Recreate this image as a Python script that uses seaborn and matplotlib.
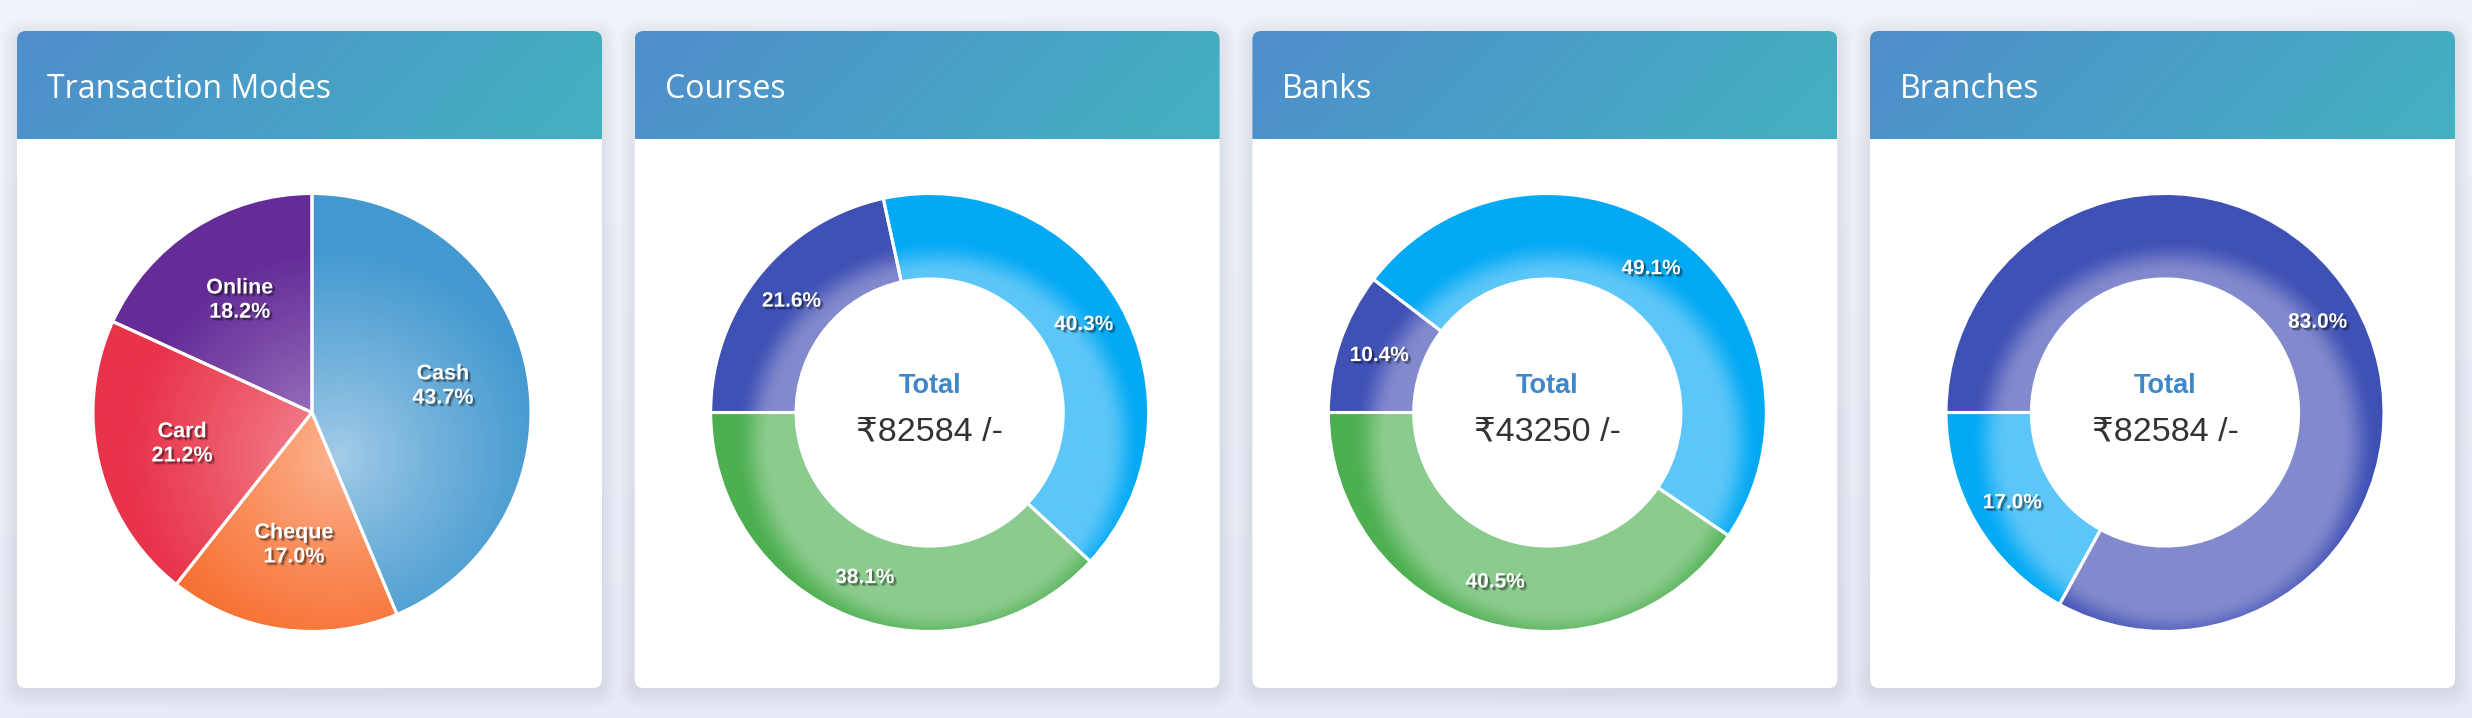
import numpy as np
import matplotlib
matplotlib.use("Agg")
import matplotlib.pyplot as plt
import seaborn as sns
from matplotlib.patches import FancyBboxPatch
import matplotlib.patheffects as pe
from matplotlib.colors import to_rgb

# ---------------- data ----------------
panel_titles = ["Transaction Modes", "Courses", "Banks", "Branches"]

mode_labels = ["Cash", "Cheque", "Card", "Online"]
mode_values = [43.7, 17.0, 21.2, 18.2]

course_values = [21.6, 40.3, 38.1]
bank_values = [10.4, 49.1, 40.5]
branch_values = [83.0, 17.0]

course_total = 82584
bank_total = 43250
branch_total = 82584

# ---------------- style ----------------
mode_dark = ["#4399d0", "#f76e2f", "#e8334a", "#652c98"]
mode_light = ["#a6cde8", "#fcb694", "#f5929c", "#a98ac8"]
indigo = ("#3f51b5", "#8289cd")
lblue = ("#03a9f4", "#5cc6f8")
green = ("#4caf50", "#8bcb8d")

W, H = 2472, 718
sns.set_theme(style="white")
plt.rcParams["font.family"] = ["Liberation Sans", "DejaVu Sans"]

fig = plt.figure(figsize=(W / 100, H / 100), dpi=100)
fig.patch.set_facecolor("#eef2fa")

bg = fig.add_axes([0, 0, 1, 1])
bg.axis("off")
ys = np.linspace(0, 1, 200)[:, None]
xs = np.linspace(0, 1, 400)[None, :]
t = np.clip(0.8 * ys + 0.2 * xs, 0, 1)[..., None]
c_top = np.array(to_rgb("#f1f4fb"))
c_bot = np.array(to_rgb("#e5eaf5"))
bg.imshow(c_top * (1 - t) + c_bot * t, extent=[0, W, H, 0], aspect="auto",
          interpolation="bilinear", zorder=0)

CARD_X0, PITCH, CARD_W = 17, 617.67, 585
CARD_TOP, CARD_BOT, HEAD_BOT = 31, 688, 139
hc0 = np.array(to_rgb("#4f8ecc"))
hc1 = np.array(to_rgb("#43b1c0"))

for i, title in enumerate(panel_titles):
    x0 = CARD_X0 + i * PITCH
    for k in range(1, 18):
        bg.add_patch(FancyBboxPatch((x0 - k, CARD_TOP - k + 4), CARD_W + 2 * k,
                                    (CARD_BOT - CARD_TOP) + 2 * k,
                                    boxstyle=f"round,pad=0,rounding_size={9 + k}",
                                    fc="#7f90c0", ec="none", alpha=0.0045, zorder=1))
    card = FancyBboxPatch((x0, CARD_TOP), CARD_W, CARD_BOT - CARD_TOP,
                          boxstyle="round,pad=0,rounding_size=9",
                          fc="white", ec="none", zorder=2)
    bg.add_patch(card)
    hx = np.linspace(0, 1, 300)[None, :]
    hy = np.linspace(0, 1, 60)[:, None]
    ht = np.clip(0.85 * hx + 0.15 * hy, 0, 1)[..., None]
    im = bg.imshow(hc0 * (1 - ht) + hc1 * ht, extent=[x0, x0 + CARD_W, HEAD_BOT, CARD_TOP],
                   aspect="auto", interpolation="bilinear", zorder=3)
    im.set_clip_path(card)
    bg.text(x0 + 30, 97.5, title, color="white", fontsize=23,
            family=["Open Sans", "DejaVu Sans"], va="baseline", ha="left", zorder=4)

bg.set_xlim(0, W)
bg.set_ylim(H, 0)

# ---------------- pies ----------------
R = 219.0
LIM = 1.12
S = 2 * R * LIM
CY = 412.5

shadow = [pe.SimplePatchShadow(offset=(2.2, -2.2), shadow_rgbFace="black", alpha=0.18),
          pe.SimplePatchShadow(offset=(1.4, -1.4), shadow_rgbFace="black", alpha=0.35),
          pe.Normal()]


def make_ax(i):
    cx = CARD_X0 + i * PITCH + 295
    ax = fig.add_axes([(cx - S / 2) / W, (H - CY - S / 2) / H, S / W, S / H])
    return ax


def fill_gradient(ax, wedge, dark, light, kind):
    n = 500
    g = np.linspace(-1.05, 1.05, n)
    X, Y = np.meshgrid(g, g)
    if kind == "pie":
        d = np.hypot(X - 0.12, Y + 0.2)
        tt = np.clip(d / 0.95, 0, 1) ** 0.85
    else:
        d = np.hypot(X - 0.037, Y + 0.137)
        tt = np.clip((d - 0.77) / 0.16, 0, 1)
        tt = tt * tt * (3 - 2 * tt)
    tt = tt[..., None]
    img = np.array(to_rgb(light)) * (1 - tt) + np.array(to_rgb(dark)) * tt
    im = ax.imshow(img, extent=[-1.05, 1.05, -1.05, 1.05], origin="lower",
                   interpolation="bilinear", zorder=0.5)
    im.set_clip_path(wedge)
    wedge.set_facecolor("none")
    wedge.set_zorder(1)


def finish(ax):
    ax.set_xlim(-LIM, LIM)
    ax.set_ylim(-LIM, LIM)
    ax.set_aspect("equal")
    ax.axis("off")


# Transaction modes pie
ax = make_ax(0)
wedges, _, autotexts = ax.pie(mode_values, startangle=90, counterclock=False,
                              colors=mode_dark, autopct="%.1f%%", pctdistance=0.61,
                              wedgeprops=dict(edgecolor="white", linewidth=2.2))
for w, dk, lt in zip(wedges, mode_dark, mode_light):
    fill_gradient(ax, w, dk, lt, "pie")
for at, lab, val in zip(autotexts, mode_labels, mode_values):
    at.set_text(f"{lab}\n{val:.1f}%")
    at.set_fontsize(15.5)
    at.set_fontweight("bold")
    at.set_color("white")
    at.set_linespacing(1.2)
    at.set_path_effects(shadow)
finish(ax)

# Donuts
donuts = [
    (course_values, [indigo, lblue, green], course_total),
    (bank_values, [indigo, lblue, green], bank_total),
    (branch_values, [indigo, lblue], branch_total),
]
for i, (vals, cols, total) in enumerate(donuts, start=1):
    ax = make_ax(i)
    wedges, _, autotexts = ax.pie(vals, startangle=180, counterclock=False,
                                  colors=[c[0] for c in cols], autopct="%.1f%%",
                                  pctdistance=0.81,
                                  wedgeprops=dict(width=0.39, edgecolor="white", linewidth=2.2))
    for w, c in zip(wedges, cols):
        fill_gradient(ax, w, c[0], c[1], "donut")
    for at, val in zip(autotexts, vals):
        at.set_text(f"{val:.1f}%")
        at.set_fontsize(15)
        at.set_fontweight("bold")
        at.set_color("white")
        at.set_path_effects(shadow)
    ax.text(0, 0.09, "Total", ha="center", va="baseline", fontsize=19.5,
            fontweight="bold", color="#3f87c9", zorder=4)
    ax.text(0, -0.1265, f"\u20b9{total} /-", ha="center", va="baseline", fontsize=24.5,
            color="#333333", zorder=4)
    finish(ax)

fig.savefig("out.png", dpi=100)
